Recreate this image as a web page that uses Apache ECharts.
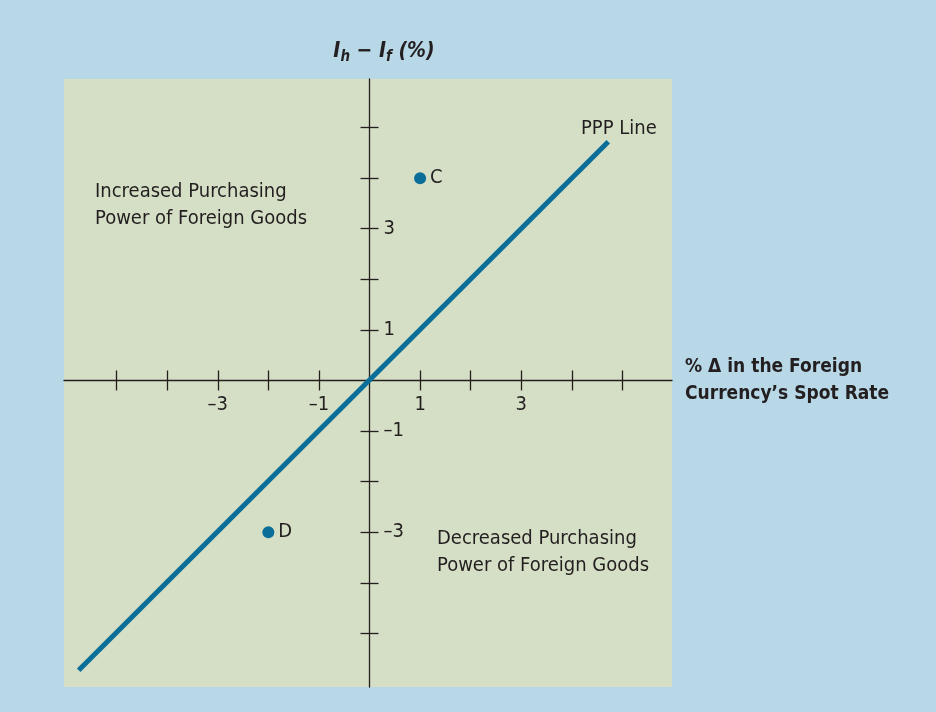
<!DOCTYPE html>
<html>
<head>
<meta charset="utf-8">
<script src="https://cdn.jsdelivr.net/npm/echarts@6/dist/echarts.min.js"></script>
<style>
html,body{margin:0;padding:0;background:#b8d8e8;}
#chart{width:936px;height:712px;}
</style>
</head>
<body>
<div id="chart"></div>
<script>
// ---- data ----
const xTickValues = [-5, -4, -3, -2, -1, 1, 2, 3, 4, 5];
const yTickValues = [-5, -4, -3, -2, -1, 1, 2, 3, 4, 5];
const xLabelValues = [-3, -1, 1, 3];
const yLabelValues = [3, 1, -1, -3];
const pppLineX = [-5.75, 4.72];
const pppLineY = [-5.73, 4.72];
const pointNames = ['C', 'D'];
const pointX = [1, -2];
const pointY = [4, -3];
const xExtent = [-6.04, 5.98];
const yExtent = [-6.06, 5.96];

const FONT = '"Liberation Sans Narrow", "DejaVu Sans Condensed", "Roboto", sans-serif';
const INK = '#231f20';
const LINE = '#0a6e98';

const fmt = v => (v < 0 ? '\u2013' + Math.abs(v) : String(v));

// grid geometry (layout)
const G = { left: 64, top: 79, width: 608, height: 608 };
const zeroXpx = G.width * (0 - xExtent[0]) / (xExtent[1] - xExtent[0]);
const zeroYpx = G.height * (yExtent[1] - 0) / (yExtent[1] - yExtent[0]);

const chart = echarts.init(document.getElementById('chart'));

const tickStyle = { color: INK, width: 1.3 };

chart.setOption({
  backgroundColor: '#b8d8e8',
  animation: false,
  grid: {
    left: G.left, top: G.top, width: G.width, height: G.height,
    show: true, backgroundColor: '#d5dfc5', borderWidth: 0,
    containLabel: false, outerBoundsMode: 'none'
  },
  xAxis: [
    {
      type: 'value', position: 'bottom', offset: -(G.height - zeroYpx),
      min: xExtent[0], max: xExtent[1],
      splitLine: { show: false },
      axisLine: { show: true, onZero: false, lineStyle: tickStyle },
      axisTick: { show: true, length: 10, customValues: xTickValues, lineStyle: tickStyle },
      axisLabel: { show: true, customValues: xLabelValues, formatter: fmt, margin: 14,
        fontFamily: FONT, fontSize: 20, color: INK },
      name: '% \u0394 in the Foreign\nCurrency\u2019s Spot Rate',
      nameLocation: 'end', nameGap: 13,
      nameTextStyle: { fontFamily: FONT, fontWeight: 'bold', fontSize: 19, color: INK,
        align: 'left', verticalAlign: 'middle', lineHeight: 27 }
    },
    {
      type: 'value', position: 'top', offset: -zeroYpx,
      min: xExtent[0], max: xExtent[1],
      splitLine: { show: false },
      axisLine: { show: false, onZero: false },
      axisTick: { show: true, length: 10, customValues: xTickValues, lineStyle: tickStyle },
      axisLabel: { show: false }
    }
  ],
  yAxis: [
    {
      type: 'value', position: 'left', offset: -zeroXpx,
      min: yExtent[0], max: yExtent[1],
      splitLine: { show: false },
      axisLine: { show: true, onZero: false, lineStyle: tickStyle },
      axisTick: { show: true, length: 9, customValues: yTickValues, lineStyle: tickStyle },
      axisLabel: { show: false }
    },
    {
      type: 'value', position: 'right', offset: -(G.width - zeroXpx),
      min: yExtent[0], max: yExtent[1],
      splitLine: { show: false },
      axisLine: { show: false, onZero: false },
      axisTick: { show: true, length: 9, customValues: yTickValues, lineStyle: tickStyle },
      axisLabel: { show: true, customValues: yLabelValues, formatter: fmt, margin: 14,
        fontFamily: FONT, fontSize: 20, color: INK }
    }
  ],
  series: [
    {
      type: 'line',
      xAxisIndex: 0, yAxisIndex: 0,
      data: pppLineX.map((x, i) => [x, pppLineY[i]]),
      symbol: 'none',
      lineStyle: { color: LINE, width: 5, cap: 'butt' },
      z: 3
    },
    {
      type: 'scatter',
      xAxisIndex: 0, yAxisIndex: 0,
      data: pointNames.map((n, i) => ({ name: n, value: [pointX[i], pointY[i]] })),
      symbolSize: 12,
      itemStyle: { color: LINE, opacity: 1 },
      label: { show: true, position: 'right', distance: 4, formatter: '{b}',
        fontFamily: FONT, fontSize: 20, color: INK },
      z: 4
    }
  ],
  graphic: [
    {
      type: 'text', x: 384, y: 52, z: 10,
      style: {
        text: '{i|I}{s|h}{i| \u2212 I}{s|f}{i| (%)}',
        align: 'center', verticalAlign: 'middle',
        rich: {
          i: { fontFamily: FONT, fontStyle: 'italic', fontWeight: 'bold', fontSize: 21, fill: INK, lineHeight: 26, verticalAlign: 'middle' },
          s: { fontFamily: FONT, fontStyle: 'italic', fontWeight: 'bold', fontSize: 15, fill: INK, lineHeight: 14, verticalAlign: 'bottom' }
        }
      }
    },
    {
      type: 'text', x: 95, y: 178, z: 10,
      style: { text: 'Increased Purchasing\nPower of Foreign Goods', font: '20px ' + FONT,
        fill: INK, lineHeight: 27, align: 'left', verticalAlign: 'top' }
    },
    {
      type: 'text', x: 437, y: 525, z: 10,
      style: { text: 'Decreased Purchasing\nPower of Foreign Goods', font: '20px ' + FONT,
        fill: INK, lineHeight: 27, align: 'left', verticalAlign: 'top' }
    },
    {
      type: 'text', x: 581, y: 129, z: 10,
      style: { text: 'PPP Line', font: '20px ' + FONT,
        fill: INK, align: 'left', verticalAlign: 'middle' }
    }
  ]
});
</script>
</body>
</html>
